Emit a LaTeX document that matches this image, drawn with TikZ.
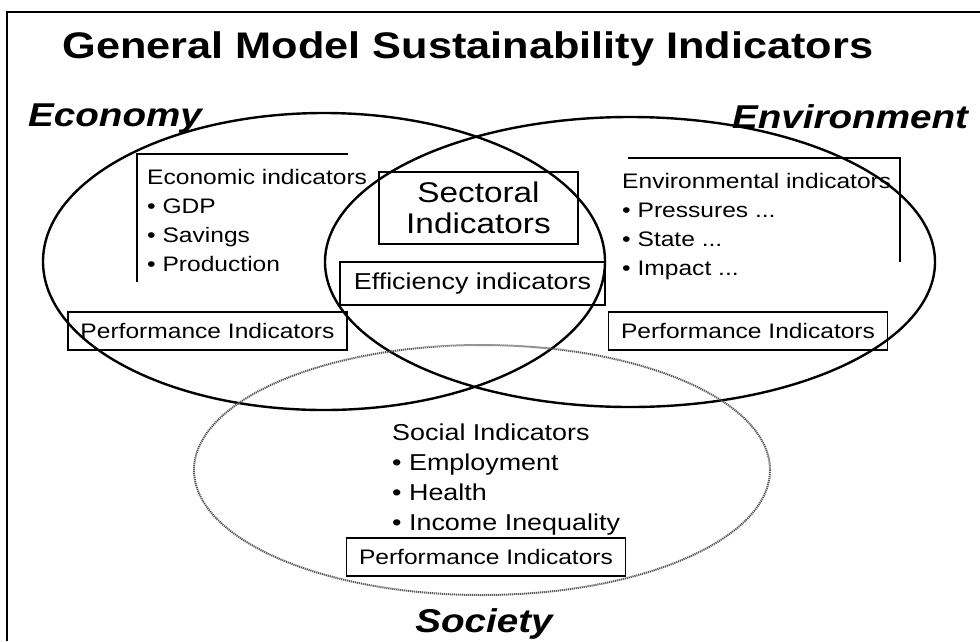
\documentclass[tikz,border=0pt]{standalone}
\usepackage{fontspec}
\setmainfont{Liberation Sans}[FakeStretch=1.17]
\usetikzlibrary{positioning}
\newcommand{\fsz}[2]{\fontsize{#1}{#2}\selectfont}

\begin{document}
\begin{tikzpicture}[
  x=1pt,y=-1pt,
  ring/.style={line width=2.4pt,draw=black},
  socring/.style={line width=2pt,draw=black!65,dash pattern=on 1.2pt off 0.8pt},
  frame/.style={line width=1.6pt,draw=black},
  bracket/.style={line width=1.4pt,draw=black},
  perfbox/.style={draw,line width=1.2pt,inner sep=0pt,minimum width=279,minimum height=38,font=\fsz{21}{21}},
  sphere/.style={font=\fsz{33}{33}\bfseries\itshape,inner sep=0pt,anchor=base},
  list/.style={align=left,inner sep=0pt,anchor=base west}
]
\useasboundingbox (0,0) rectangle (980,641);
\draw[frame] (7,641) -- (7,12) -- (980,12);

% the three spheres
\draw[ring] (324,261.5) ellipse (281 and 148.5);
\draw[ring] (630,262) ellipse (305 and 145);
\draw[socring] (482,470) ellipse (288 and 125);

\node[inner sep=0pt,anchor=base,font=\fsz{37}{37}\bfseries] (title) at (468,58) {General Model Sustainability Indicators};
\node[sphere] (economy) at (115,126) {Economy};
\node[sphere] (environment) at (850,128) {Environment};
\node[sphere] (society) at (484,632) {Society};

% indicator lists (base = last line)
\node[list,font=\fsz{21}{28.7}] (econlist) at (147,271) {Economic indicators\\• GDP\\• Savings\\• Production};
\node[list,font=\fsz{21}{29}] (envlist) at (622,275) {Environmental indicators\\• Pressures ...\\• State ...\\• Impact ...};
\node[list,font=\fsz{23}{30}] (soclist) at (392,530) {Social Indicators\\• Employment\\• Health\\• Income Inequality};
\draw[bracket] (137,282) -- (137,154) -- (348,154);
\draw[bracket] (628,158) -- (900,158) -- (900,262);

% boxes
\node[perfbox] (econperf) at (207.5,331) {Performance Indicators};
\node[perfbox] (envperf) at (748,331) {Performance Indicators};
\node[perfbox] (socperf) at (486,557) {Performance Indicators};
\node[draw,line width=1.2pt,minimum width=199,minimum height=72,inner sep=0pt,align=center,font=\fsz{28.5}{31}] (sectoral) at (478.5,208) {Sectoral\\Indicators};
\node[draw,line width=1.2pt,minimum width=265,minimum height=43,inner sep=0pt,font=\fsz{23}{23}] (efficiency) at (472.5,283.5) {Efficiency indicators};
\end{tikzpicture}
\end{document}
